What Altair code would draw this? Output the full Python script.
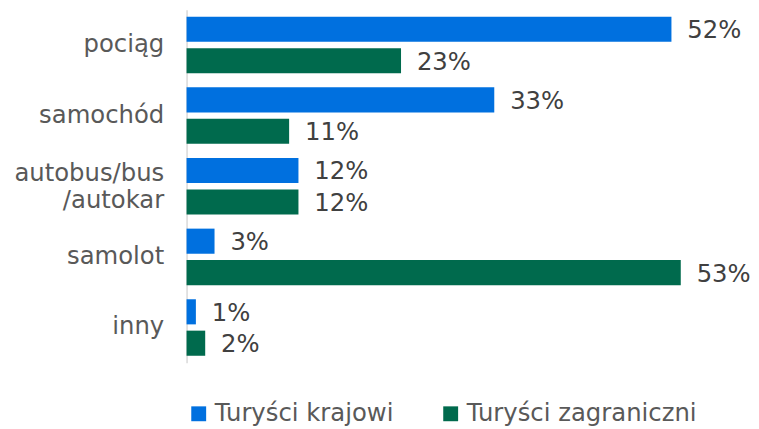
import altair as alt
import pandas as pd

categories = ["pociąg", "samochód", "autobus/bus\n/autokar", "samolot", "inny"]
series_names = ["Turyści krajowi", "Turyści zagraniczni"]
domestic = [52, 33, 12, 3, 1]
foreign = [23, 11, 12, 53, 2]
colors = ["#0070DF", "#006A4D"]

rows = []
for c, d, f in zip(categories, domestic, foreign):
    rows.append({"kat": c, "seria": series_names[0], "val": d})
    rows.append({"kat": c, "seria": series_names[1], "val": f})
df = pd.DataFrame(rows)
df["lab"] = df["val"].astype(str) + "%"

FONT = "DejaVu Sans"

y = alt.Y("kat:N", sort=categories,
          scale=alt.Scale(paddingInner=0.2, paddingOuter=0.1),
          axis=alt.Axis(title=None, ticks=False, grid=False, domainColor="#D9D9D9",
                        domainWidth=1.5, labelFont=FONT, labelFontSize=24.5,
                        labelColor="#595959", labelPadding=23, labelLineHeight=27,
                        labelLimit=300,
                        labelOffset={"condition": {"test": "indexof(datum.label, '\\n') >= 0",
                                                   "value": -12}, "value": 0},
                        labelExpr="split(datum.label, '\\n')"))
yoff = alt.YOffset("seria:N", sort=series_names, scale=alt.Scale(paddingInner=0.2, paddingOuter=0))
x = alt.X("val:Q", scale=alt.Scale(domain=[0, 55], nice=False), axis=None)

bars = alt.Chart(df).mark_bar().encode(
    x=x, y=y, yOffset=yoff,
    color=alt.Color("seria:N", sort=series_names,
                    scale=alt.Scale(domain=series_names, range=colors),
                    legend=alt.Legend(title=None, orient="none", direction="horizontal",
                                      legendX=0, legendY=395, padding=0,
                                      symbolType="square", symbolSize=225, symbolStrokeWidth=0,
                                      labelFont=FONT, labelFontSize=24.5, labelColor="#595959",
                                      labelOffset=4, labelLimit=400, columnPadding=45))
)
text = alt.Chart(df).mark_text(align="left", baseline="middle", dx=16, dy=2,
                               font=FONT, fontSize=24.5, color="#404040").encode(
    x=x, y=y, yOffset=yoff, text="lab:N"
)

chart = (bars + text).properties(
    width=517, height=356,
    padding={"left": 5, "top": 0, "right": 0, "bottom": 0},
).configure_view(stroke=None)

chart.save("out.html", embed_options={"renderer": "svg", "actions": False})
